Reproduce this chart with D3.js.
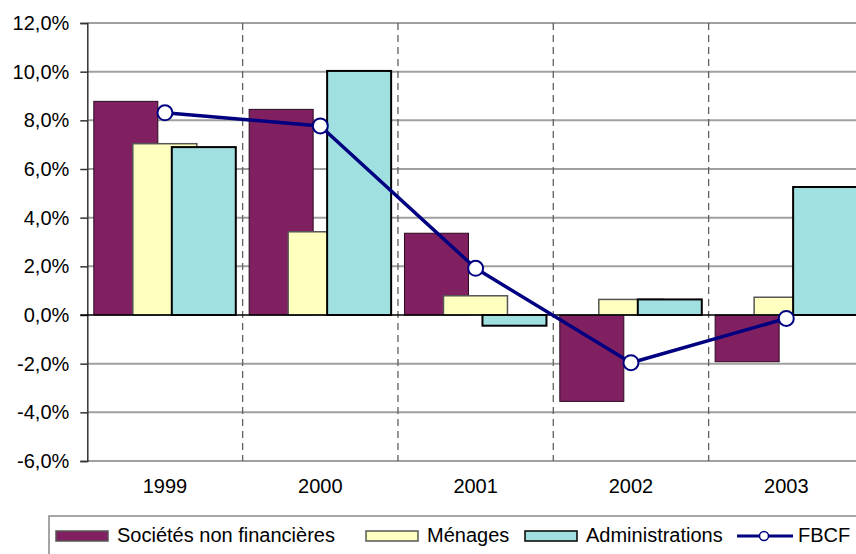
<!DOCTYPE html>
<html>
<head>
<meta charset="utf-8">
<script src="https://cdn.jsdelivr.net/npm/d3@7"></script>
<style>
  html, body { margin: 0; padding: 0; background: #fff; }
  svg { display: block; font-family: Arial, "Liberation Sans", sans-serif; }
</style>
</head>
<body>
<svg id="chart" width="856" height="554"></svg>
<script>
// Years on the category axis
const years = ["1999", "2000", "2001", "2002", "2003"];
// Annual growth rates (%) by institutional sector
const societes = [8.78, 8.45, 3.36, -3.55, -1.92];
const menages = [7.04, 3.42, 0.79, 0.64, 0.73];
const administrations = [6.90, 10.03, -0.44, 0.64, 5.26];
// Total gross fixed capital formation (%)
const fbcf = [8.31, 7.77, 1.92, -1.96, -0.14];
// Value axis ticks
const yTicks = [-6, -4, -2, 0, 2, 4, 6, 8, 10, 12];

const barSeries = [
  { name: "Sociétés non financières", values: societes, fill: "#802060", stroke: "#2a0a20", sw: 1 },
  { name: "Ménages", values: menages, fill: "#FFFFC0", stroke: "#555555", sw: 1.5 },
  { name: "Administrations", values: administrations, fill: "#A0E0E0", stroke: "#000000", sw: 2 }
];

const svg = d3.select("#chart");
const plotLeft = 87.3, plotTop = 23, plotBottom = 461;
const bandW = 155.33;

const x = d3.scaleBand().domain(years).range([plotLeft, plotLeft + bandW * years.length]).padding(0);
const y = d3.scaleLinear().domain([-6, 12]).range([plotBottom, plotTop]);

// French number format: comma decimal separator, plain hyphen for negatives
const fr = d3.formatLocale({ decimal: ",", thousands: " ", grouping: [3], currency: ["", " €"], minus: "-" });
const fmt = v => fr.format(".1f")(v) + "%";

// Horizontal gridlines
svg.append("g").selectAll("line")
  .data(yTicks.filter(t => t !== 0))
  .join("line")
  .attr("x1", plotLeft).attr("x2", 870)
  .attr("y1", d => y(d)).attr("y2", d => y(d))
  .attr("stroke", "#a0a0a0").attr("stroke-width", 2);

// Dashed separators between categories
svg.append("g").selectAll("line")
  .data(years.slice(1))
  .join("line")
  .attr("x1", d => x(d)).attr("x2", d => x(d))
  .attr("y1", plotTop).attr("y2", plotBottom)
  .attr("stroke", "#606060").attr("stroke-width", 1.3)
  .attr("stroke-dasharray", "7,5");

// Value axis
const yAxis = d3.axisLeft(y).tickValues(yTicks).tickFormat(fmt).tickSize(7).tickPadding(11);
const ya = svg.append("g").attr("transform", `translate(${plotLeft},0)`).call(yAxis);
ya.select(".domain").attr("stroke", "#333").attr("stroke-width", 1.5);
ya.selectAll(".tick line").attr("stroke", "#333").attr("stroke-width", 1.5);
ya.selectAll(".tick text").attr("font-size", 20).attr("fill", "#000")
  .attr("font-family", "Arial, 'Liberation Sans', sans-serif");

// Bars
const bw = bandW * 0.412, step = bandW * 0.251, off = bandW * 0.042;
barSeries.forEach((s, i) => {
  svg.append("g").selectAll("rect")
    .data(s.values.map((v, j) => ({ v, year: years[j] })))
    .join("rect")
    .attr("x", d => x(d.year) + off + i * step)
    .attr("width", bw)
    .attr("y", d => y(Math.max(0, d.v)))
    .attr("height", d => Math.abs(y(d.v) - y(0)))
    .attr("fill", s.fill)
    .attr("stroke", s.stroke)
    .attr("stroke-width", s.sw);
});

// Zero line
svg.append("line")
  .attr("x1", plotLeft - 7).attr("x2", 870)
  .attr("y1", y(0)).attr("y2", y(0))
  .attr("stroke", "#000").attr("stroke-width", 1.5);

// Category labels
svg.append("g").selectAll("text")
  .data(years)
  .join("text")
  .attr("x", d => x(d) + x.bandwidth() / 2)
  .attr("y", 493)
  .attr("text-anchor", "middle")
  .attr("font-size", 20)
  .text(d => d);

// FBCF line with markers
const cx = (d, j) => x(years[j]) + x.bandwidth() / 2;
svg.append("path")
  .datum(fbcf)
  .attr("d", d3.line().x(cx).y(d => y(d)))
  .attr("fill", "none")
  .attr("stroke", "#000080")
  .attr("stroke-width", 3.5)
  .attr("stroke-linejoin", "round");
svg.append("g").selectAll("circle")
  .data(fbcf)
  .join("circle")
  .attr("cx", cx)
  .attr("cy", d => y(d))
  .attr("r", 7.5)
  .attr("fill", "#fff")
  .attr("stroke", "#000080")
  .attr("stroke-width", 2);

// Legend
const lg = svg.append("g");
lg.append("rect")
  .attr("x", 49).attr("y", 516).attr("width", 900).attr("height", 80)
  .attr("fill", "#fff").attr("stroke", "#888").attr("stroke-width", 1.5);
const legendItems = [
  { ...barSeries[0], sx: 56, tx: 117 },
  { ...barSeries[1], sx: 366, tx: 427 },
  { ...barSeries[2], sx: 525, tx: 586 }
];
legendItems.forEach(it => {
  lg.append("rect")
    .attr("x", it.sx).attr("y", 531).attr("width", 52).attr("height", 10)
    .attr("fill", it.fill).attr("stroke", it.stroke === "#2a0a20" ? "#555" : it.stroke).attr("stroke-width", 1.5);
  lg.append("text").attr("x", it.tx).attr("y", 542).attr("font-size", 20).text(it.name);
});
lg.append("line").attr("x1", 737).attr("x2", 793).attr("y1", 536).attr("y2", 536)
  .attr("stroke", "#000080").attr("stroke-width", 3);
lg.append("circle").attr("cx", 764).attr("cy", 536).attr("r", 4.5)
  .attr("fill", "#fff").attr("stroke", "#000080").attr("stroke-width", 1.5);
lg.append("text").attr("x", 798).attr("y", 542).attr("font-size", 20).text("FBCF");
</script>
</body>
</html>
